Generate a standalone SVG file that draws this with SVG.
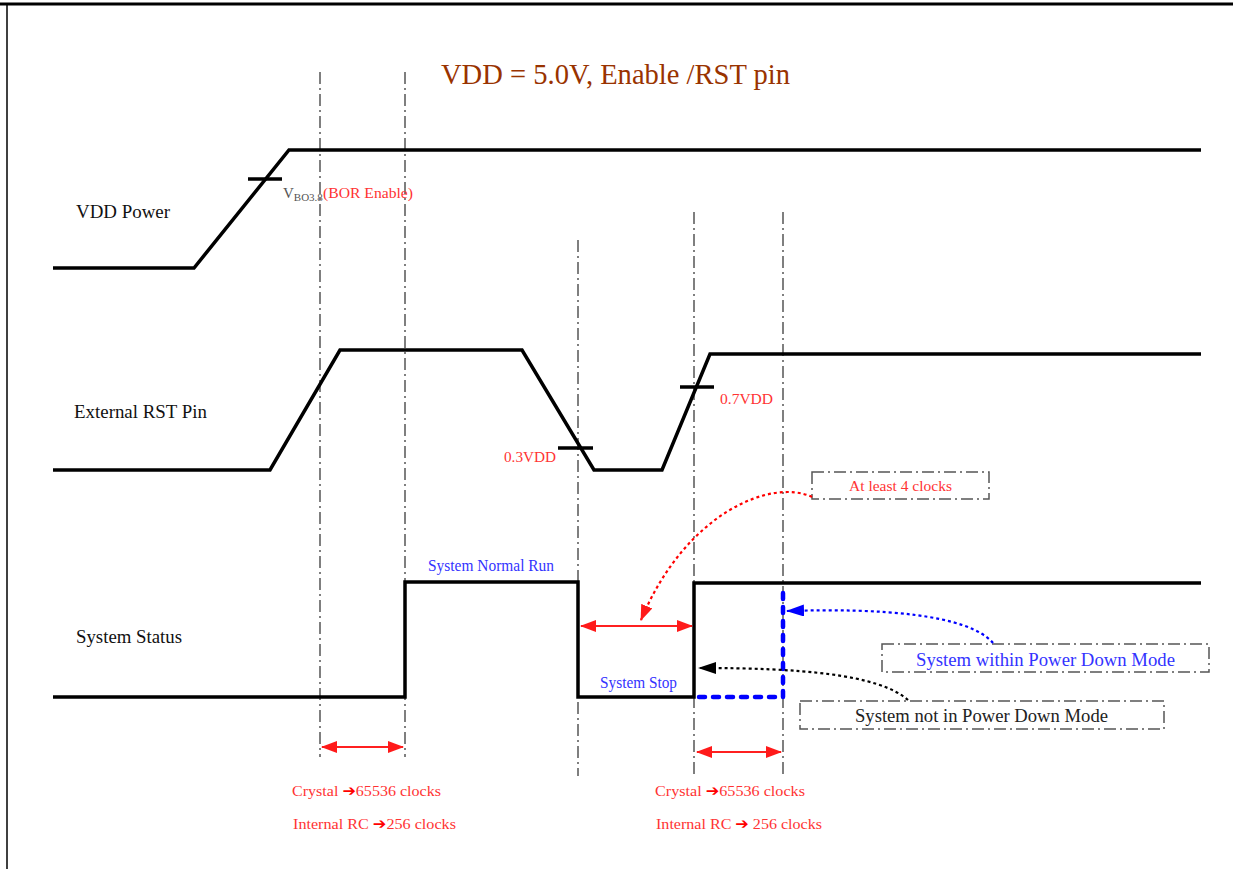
<svg xmlns="http://www.w3.org/2000/svg" width="1239" height="869" viewBox="0 0 1239 869">
<style>
.sig{fill:none;stroke:#000;stroke-width:3.5;stroke-linejoin:miter}
.tick{stroke:#000;stroke-width:3.5}
.grid{stroke:#555;stroke-width:1.5;stroke-dasharray:12 4 2 4;fill:none}
.box{fill:none;stroke:#555;stroke-width:1.5;stroke-dasharray:12 4 2 4}
.lbl{font-family:"Liberation Serif",serif;font-size:19px;fill:#111}
.red{font-family:"Liberation Serif",serif;font-size:15px;fill:#ff3333}
.blue{font-family:"Liberation Serif",serif;font-size:16px;fill:#3333ff}
.ra{stroke:#ff2020;stroke-width:1.8;fill:none}
.arr{font-family:"DejaVu Sans",sans-serif}
</style>
<defs>
<marker id="mr" markerUnits="userSpaceOnUse" markerWidth="16" markerHeight="12" refX="15" refY="6" orient="auto-start-reverse"><path d="M0,0 L16,6 L0,12 z" fill="#ff1a1a"/></marker>
<marker id="mb" markerUnits="userSpaceOnUse" markerWidth="18" markerHeight="12" refX="17" refY="6" orient="auto"><path d="M0,0 L18,6 L0,12 z" fill="#0000ff"/></marker>
<marker id="mk" markerUnits="userSpaceOnUse" markerWidth="18" markerHeight="12" refX="17" refY="6" orient="auto"><path d="M0,0 L18,6 L0,12 z" fill="#000"/></marker>
</defs>
<rect width="1239" height="869" fill="#fff"/>
<g id="frame">
<line x1="0" y1="4" x2="1233" y2="4" stroke="#000" stroke-width="3"/>
<line x1="7" y1="4" x2="7" y2="869" stroke="#000" stroke-width="1.5"/>
</g>
<g id="title">
<text x="441" y="84" font-family="Liberation Serif,serif" font-size="29" fill="#993300" textLength="349" lengthAdjust="spacingAndGlyphs">VDD = 5.0V, Enable /RST pin</text>
</g>
<g id="gridlines">
<line class="grid" x1="320" y1="72" x2="320" y2="757"/>
<line class="grid" x1="405" y1="72" x2="405" y2="757"/>
<line class="grid" x1="578" y1="240" x2="578" y2="776"/>
<line class="grid" x1="694" y1="212" x2="694" y2="776"/>
<line class="grid" x1="783" y1="212" x2="783" y2="776"/>
</g>
<g id="vdd-power">
<text class="lbl" x="76" y="218" textLength="94" lengthAdjust="spacingAndGlyphs">VDD Power</text>
<polyline class="sig" points="53,268 194,268 289,150 1201,150"/>
<line class="tick" x1="248" y1="179" x2="282" y2="179"/>
<text x="283" y="198" font-family="Liberation Serif,serif" font-size="15" fill="#555">V<tspan font-size="11" dy="3">BO3.8</tspan></text>
<text class="red" x="323" y="198" textLength="90" lengthAdjust="spacingAndGlyphs">(BOR Enable)</text>
</g>
<g id="external-rst">
<text class="lbl" x="74" y="418" textLength="133" lengthAdjust="spacingAndGlyphs">External RST Pin</text>
<polyline class="sig" points="53,470 270,470 340,350 522,350 594,470 662,470 710,354 1201,354"/>
<line class="tick" x1="680" y1="387" x2="714" y2="387"/>
<line class="tick" x1="558" y1="448" x2="593" y2="448"/>
<text class="red" x="720" y="404" textLength="53" lengthAdjust="spacingAndGlyphs">0.7VDD</text>
<text class="red" x="504" y="462" textLength="52" lengthAdjust="spacingAndGlyphs">0.3VDD</text>
</g>
<g id="system-status">
<text class="lbl" x="76" y="643" textLength="106" lengthAdjust="spacingAndGlyphs">System Status</text>
<polyline class="sig" points="53,697 405,697 405,582 578,582 578,697 694,697 694,583 1201,583"/>
<text class="blue" x="428" y="571" textLength="126" lengthAdjust="spacingAndGlyphs">System Normal Run</text>
<text class="blue" x="600" y="688" textLength="77" lengthAdjust="spacingAndGlyphs">System Stop</text>
<polyline points="699,697 783,697 783,588" fill="none" stroke="#0000ff" stroke-width="4.5" stroke-linecap="round" stroke-dasharray="6 8"/>
</g>
<g id="note-4clocks">
<rect class="box" x="812" y="472" width="177" height="27"/>
<text class="red" x="849" y="491" textLength="103" lengthAdjust="spacingAndGlyphs">At least 4 clocks</text>
</g>
<g id="note-within">
<rect class="box" x="882" y="644" width="327" height="28"/>
<text x="916" y="666" font-family="Liberation Serif,serif" font-size="19" fill="#3333ff" textLength="259" lengthAdjust="spacingAndGlyphs">System within Power Down Mode</text>
</g>
<g id="note-not">
<rect class="box" x="800" y="701" width="364" height="28"/>
<text x="855" y="722" font-family="Liberation Serif,serif" font-size="19" fill="#222" textLength="253" lengthAdjust="spacingAndGlyphs">System not in Power Down Mode</text>
</g>
<g id="timing-labels">
<text class="red" x="292" y="796" textLength="149" lengthAdjust="spacingAndGlyphs">Crystal <tspan class="arr" fill="#ff0000">➔</tspan>65536 clocks</text>
<text class="red" x="293" y="829" textLength="163" lengthAdjust="spacingAndGlyphs">Internal RC <tspan class="arr" fill="#ff0000">➔</tspan>256 clocks</text>
<text class="red" x="655" y="796" textLength="150" lengthAdjust="spacingAndGlyphs">Crystal <tspan class="arr" fill="#ff0000">➔</tspan>65536 clocks</text>
<text class="red" x="656" y="829" textLength="166" lengthAdjust="spacingAndGlyphs">Internal RC <tspan class="arr" fill="#ff0000">➔</tspan> 256 clocks</text>
</g>
<g id="connectors">
<line class="ra" x1="581" y1="626" x2="692" y2="626" marker-start="url(#mr)" marker-end="url(#mr)"/>
<line class="ra" x1="322" y1="747" x2="403" y2="747" marker-start="url(#mr)" marker-end="url(#mr)"/>
<line class="ra" x1="697" y1="752" x2="781" y2="752" marker-start="url(#mr)" marker-end="url(#mr)"/>
<path d="M812,497 C772,478 686,512 641,620" fill="none" stroke="#ff0000" stroke-width="2.2" stroke-dasharray="3 3" marker-end="url(#mr)"/>
<path d="M993,643 C968,614 880,608 787,611" fill="none" stroke="#0000ff" stroke-width="2.2" stroke-dasharray="3 3" marker-end="url(#mb)"/>
<path d="M908,700 C878,674 800,668 699,668" fill="none" stroke="#000" stroke-width="2.2" stroke-dasharray="3 3" marker-end="url(#mk)"/>
</g>
</svg>
